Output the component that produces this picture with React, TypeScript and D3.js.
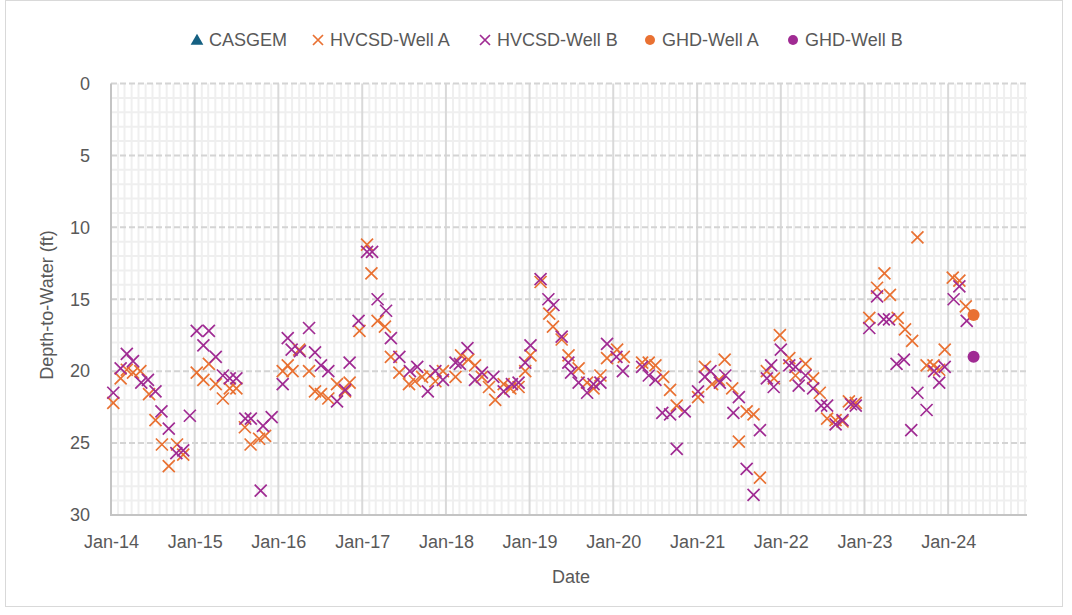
import React, { useEffect, useRef } from "react";
import * as d3 from "d3";

// depth-to-water readings, [date, ft]
const hvcsdWellA: [string, number][] = [
  ["2014-01-11", 22.2], ["2014-02-12", 20.5], ["2014-03-11", 19.9], ["2014-04-07", 20.1],
  ["2014-05-09", 20.0], ["2014-06-16", 21.6], ["2014-07-14", 23.4], ["2014-08-11", 25.1],
  ["2014-09-10", 26.6], ["2014-10-16", 25.1], ["2014-11-12", 25.8], ["2015-01-10", 20.1],
  ["2015-02-08", 20.6], ["2015-03-04", 19.5], ["2015-04-03", 20.9], ["2015-05-04", 21.9],
  ["2015-06-03", 21.2], ["2015-07-02", 21.2], ["2015-08-08", 23.9], ["2015-09-02", 25.1],
  ["2015-10-09", 24.7], ["2015-11-04", 24.5], ["2016-01-20", 20.0], ["2016-02-11", 19.6],
  ["2016-03-03", 20.0], ["2016-04-01", 18.5], ["2016-05-14", 20.0], ["2016-06-09", 21.4],
  ["2016-07-05", 21.6], ["2016-08-06", 21.9], ["2016-09-13", 20.9], ["2016-10-18", 21.4],
  ["2016-11-07", 20.8], ["2016-12-20", 17.2], ["2017-01-22", 11.2], ["2017-02-10", 13.2],
  ["2017-03-09", 16.5], ["2017-04-10", 16.9], ["2017-05-06", 19.0], ["2017-06-12", 20.1],
  ["2017-07-24", 20.9], ["2017-08-19", 20.7], ["2017-09-19", 20.4], ["2017-10-24", 20.3],
  ["2017-11-16", 20.7], ["2017-12-19", 20.0], ["2018-02-12", 20.4], ["2018-03-08", 18.9],
  ["2018-04-09", 19.2], ["2018-05-08", 19.6], ["2018-06-07", 20.4], ["2018-07-08", 21.1],
  ["2018-08-04", 22.0], ["2018-09-10", 20.9], ["2018-10-09", 21.2], ["2018-11-14", 21.1],
  ["2018-12-13", 20.0], ["2019-01-05", 18.9], ["2019-02-18", 13.8], ["2019-03-28", 16.0],
  ["2019-04-13", 16.9], ["2019-05-21", 17.8], ["2019-06-20", 18.9], ["2019-08-03", 19.8],
  ["2019-09-09", 20.8], ["2019-10-07", 21.2], ["2019-11-06", 20.3], ["2019-12-05", 19.1],
  ["2020-01-18", 18.5], ["2020-02-16", 19.0], ["2020-05-06", 19.4], ["2020-06-04", 19.4],
  ["2020-07-03", 19.6], ["2020-08-06", 20.4], ["2020-09-05", 21.3], ["2020-10-04", 22.4],
  ["2021-01-05", 21.8], ["2021-02-04", 19.7], ["2021-03-07", 20.9], ["2021-04-06", 20.6],
  ["2021-05-01", 19.2], ["2021-06-03", 21.2], ["2021-07-02", 24.9], ["2021-08-05", 22.8],
  ["2021-09-04", 23.0], ["2021-10-02", 27.4], ["2021-11-01", 20.0], ["2021-12-02", 20.5],
  ["2021-12-28", 17.5], ["2022-02-07", 19.1], ["2022-03-06", 20.3], ["2022-04-19", 19.5],
  ["2022-05-22", 20.5], ["2022-06-20", 21.5], ["2022-07-22", 23.3], ["2022-08-28", 23.4],
  ["2022-09-27", 23.5], ["2022-10-25", 22.1], ["2022-11-24", 22.2], ["2023-01-22", 16.3],
  ["2023-02-25", 14.2], ["2023-03-29", 13.2], ["2023-04-22", 14.7], ["2023-05-26", 16.3],
  ["2023-06-27", 17.1], ["2023-07-28", 17.9], ["2023-08-20", 10.7], ["2023-09-29", 19.6],
  ["2023-10-29", 19.6], ["2023-11-23", 19.9], ["2023-12-17", 18.5], ["2024-01-21", 13.5],
  ["2024-02-19", 13.7], ["2024-03-18", 15.5],
];

const hvcsdWellB: [string, number][] = [
  ["2014-01-11", 21.5], ["2014-02-12", 19.8], ["2014-03-11", 18.8], ["2014-04-07", 19.3],
  ["2014-05-13", 20.8], ["2014-06-11", 20.6], ["2014-07-14", 21.4], ["2014-08-09", 22.8],
  ["2014-09-10", 24.0], ["2014-10-13", 25.7], ["2014-11-12", 25.5], ["2014-12-11", 23.1],
  ["2015-01-10", 17.2], ["2015-02-08", 18.2], ["2015-03-04", 17.2], ["2015-04-03", 19.0],
  ["2015-05-04", 20.3], ["2015-06-03", 20.5], ["2015-07-02", 20.5], ["2015-08-10", 23.3],
  ["2015-09-03", 23.3], ["2015-10-16", 28.3], ["2015-10-26", 23.8], ["2015-12-03", 23.2],
  ["2016-01-20", 20.9], ["2016-02-11", 17.7], ["2016-02-28", 18.5], ["2016-04-04", 18.6],
  ["2016-05-14", 17.0], ["2016-06-09", 18.7], ["2016-07-05", 19.6], ["2016-08-06", 20.0],
  ["2016-09-13", 22.1], ["2016-10-18", 21.3], ["2016-11-07", 19.4], ["2016-12-16", 16.5],
  ["2017-01-22", 11.7], ["2017-02-13", 11.7], ["2017-03-09", 15.0], ["2017-04-15", 15.8],
  ["2017-05-06", 17.7], ["2017-06-12", 19.0], ["2017-07-28", 20.0], ["2017-08-29", 19.7],
  ["2017-10-14", 21.4], ["2017-11-16", 20.0], ["2017-12-19", 20.6], ["2018-02-12", 19.4],
  ["2018-03-03", 19.5], ["2018-04-05", 18.4], ["2018-05-08", 20.6], ["2018-06-07", 20.1],
  ["2018-07-27", 20.4], ["2018-09-10", 21.4], ["2018-10-16", 20.9], ["2018-11-14", 20.8],
  ["2018-12-13", 19.4], ["2019-01-05", 18.2], ["2019-02-18", 13.6], ["2019-03-24", 15.0],
  ["2019-04-15", 15.4], ["2019-05-21", 17.6], ["2019-06-19", 19.4], ["2019-07-01", 20.1],
  ["2019-08-03", 20.8], ["2019-09-09", 21.5], ["2019-10-07", 20.9], ["2019-11-06", 20.8],
  ["2019-12-05", 18.1], ["2020-01-15", 19.0], ["2020-02-12", 20.0], ["2020-05-06", 19.7],
  ["2020-06-04", 20.3], ["2020-07-03", 20.6], ["2020-08-02", 22.9], ["2020-09-05", 23.0],
  ["2020-10-04", 25.4], ["2020-11-08", 22.8], ["2021-01-05", 21.4], ["2021-02-04", 20.4],
  ["2021-02-28", 20.0], ["2021-04-10", 20.8], ["2021-05-04", 20.3], ["2021-06-08", 22.9],
  ["2021-07-02", 21.8], ["2021-08-05", 26.8], ["2021-09-04", 28.6], ["2021-10-02", 24.1],
  ["2021-11-01", 20.5], ["2021-11-20", 19.6], ["2021-12-01", 21.1], ["2022-01-01", 18.5],
  ["2022-02-07", 19.6], ["2022-03-06", 19.7], ["2022-03-20", 21.0], ["2022-04-19", 20.3],
  ["2022-05-22", 21.2], ["2022-06-26", 22.4], ["2022-07-22", 22.4], ["2022-08-28", 23.7],
  ["2022-09-27", 23.4], ["2022-11-03", 22.3], ["2022-11-24", 22.4], ["2023-01-22", 17.0],
  ["2023-02-25", 14.8], ["2023-03-26", 16.4], ["2023-04-18", 16.4], ["2023-05-21", 19.5],
  ["2023-06-22", 19.2], ["2023-07-24", 24.1], ["2023-08-20", 21.5], ["2023-09-29", 22.7],
  ["2023-11-01", 20.0], ["2023-11-23", 20.8], ["2023-12-17", 19.7], ["2024-01-25", 15.0],
  ["2024-02-19", 14.1], ["2024-03-22", 16.5],
];

const ghdWellA: [string, number][] = [["2024-04-21", 16.1]];
const ghdWellB: [string, number][] = [["2024-04-21", 19.0]];
const casgem: [string, number][] = [];

const yTicks = [0, 5, 10, 15, 20, 25, 30];
const xTickYears = d3.range(2014, 2025);
const legendNames = ["CASGEM", "HVCSD-Well A", "HVCSD-Well B", "GHD-Well A", "GHD-Well B"];

const BLUE = "#156082", ORANGE = "#E97132", PURPLE = "#A02B93";
const FONT = "'Liberation Sans', Arial, sans-serif";

const App = () => {
  const svgRef = useRef<SVGSVGElement>(null);

  useEffect(() => {
    const svg = d3.select(svgRef.current);
    svg.selectAll("*").remove();
    draw(svg);
  }, []);

  const draw = (svg: any) => {
    const left = 111, right = 1027, top = 83.5, bottom = 515;
    const parse = d3.timeParse("%Y-%m-%d");

    const x = d3.scaleTime()
      .domain([new Date(2014, 0, 1), new Date(2024, 11, 10)])
      .range([left, right]);
    const y = d3.scaleLinear().domain([0, 30]).range([top, bottom]);

    svg.append("rect").attr("width", 1072).attr("height", 615).attr("fill", "#fff");
    svg.append("rect")
      .attr("x", 5.5).attr("y", 0.5).attr("width", 1057).attr("height", 606)
      .attr("fill", "none").attr("stroke", "#d9d9d9");

    const grid = svg.append("g");
    // minor gridlines (monthly / 1 ft)
    const months = d3.timeMonth.range(new Date(2014, 1, 1), new Date(2024, 11, 10))
      .filter((d) => d.getMonth() !== 0);
    grid.selectAll(".mv").data(months).enter().append("line")
      .attr("x1", (d) => x(d)).attr("x2", (d) => x(d))
      .attr("y1", top).attr("y2", bottom)
      .attr("stroke", "#efefef").attr("stroke-width", 2);
    const feet = d3.range(1, 30).filter((d) => d % 5 !== 0);
    grid.selectAll(".mh").data(feet).enter().append("line")
      .attr("x1", left).attr("x2", right)
      .attr("y1", (d) => y(d)).attr("y2", (d) => y(d))
      .attr("stroke", "#efefef").attr("stroke-width", 2);
    // major gridlines
    const years = xTickYears.slice(1).map((yr) => new Date(yr, 0, 1));
    grid.selectAll(".Mv").data(years).enter().append("line")
      .attr("x1", (d) => x(d)).attr("x2", (d) => x(d))
      .attr("y1", top).attr("y2", bottom)
      .attr("stroke", "#d9d9d9").attr("stroke-width", 2);
    grid.selectAll(".Mh").data(yTicks.slice(0, -1)).enter().append("line")
      .attr("x1", left).attr("x2", right)
      .attr("y1", (d) => y(d)).attr("y2", (d) => y(d))
      .attr("stroke", "#d4d4d4").attr("stroke-width", 2)
      .attr("stroke-dasharray", "6,3");

    // axis lines
    svg.append("line").attr("x1", left).attr("x2", left).attr("y1", top).attr("y2", bottom)
      .attr("stroke", "#c4c4c4").attr("stroke-width", 2);
    svg.append("line").attr("x1", left - 1).attr("x2", right).attr("y1", bottom).attr("y2", bottom)
      .attr("stroke", "#c4c4c4").attr("stroke-width", 2);

    const xAxis = svg.append("g").attr("transform", `translate(0,${bottom})`)
      .call(d3.axisBottom(x)
        .tickValues(xTickYears.map((yr) => new Date(yr, 0, 1)))
        .tickFormat(d3.timeFormat("%b-%y") as any)
        .tickSize(0).tickPadding(20));
    xAxis.select(".domain").remove();
    xAxis.selectAll("text").attr("font-family", FONT).attr("font-size", "18px").attr("fill", "#595959");

    const yAxis = svg.append("g").attr("transform", `translate(${left},0)`)
      .call(d3.axisLeft(y).tickValues(yTicks).tickSize(0).tickPadding(21));
    yAxis.select(".domain").remove();
    yAxis.selectAll("text").attr("font-family", FONT).attr("font-size", "18px").attr("fill", "#595959");

    svg.append("text")
      .attr("transform", "translate(53,305) rotate(-90)")
      .attr("text-anchor", "middle")
      .attr("font-family", FONT).attr("font-size", "18px").attr("fill", "#595959")
      .text("Depth-to-Water (ft)");
    svg.append("text")
      .attr("x", 571).attr("y", 583)
      .attr("text-anchor", "middle")
      .attr("font-family", FONT).attr("font-size", "18px").attr("fill", "#595959")
      .text("Date");

    const cross = "M-6,-6L6,6M6,-6L-6,6";
    const tri = d3.symbol().type(d3.symbolTriangle).size(70)();

    const addCross = (data: [string, number][], color: string) => {
      svg.append("g").selectAll("path").data(data).enter().append("path")
        .attr("d", cross)
        .attr("transform", (d) => `translate(${x(parse(d[0]) as Date)},${y(d[1])})`)
        .attr("stroke", color).attr("stroke-width", 1.7).attr("fill", "none");
    };
    const addDot = (data: [string, number][], color: string) => {
      svg.append("g").selectAll("circle").data(data).enter().append("circle")
        .attr("cx", (d) => x(parse(d[0]) as Date)).attr("cy", (d) => y(d[1]))
        .attr("r", 6).attr("fill", color);
    };

    svg.append("g").selectAll("path").data(casgem).enter().append("path")
      .attr("d", tri)
      .attr("transform", (d) => `translate(${x(parse(d[0]) as Date)},${y(d[1])})`)
      .attr("fill", BLUE);
    addCross(hvcsdWellA, ORANGE);
    addCross(hvcsdWellB, PURPLE);
    addDot(ghdWellA, ORANGE);
    addDot(ghdWellB, PURPLE);

    // legend
    const legendX = [197, 318, 485, 650, 793];
    const legendColors = [BLUE, ORANGE, PURPLE, ORANGE, PURPLE];
    const lg = svg.append("g");
    legendNames.forEach((name, i) => {
      const cx = legendX[i], cy = 40;
      if (i === 0) {
        lg.append("path").attr("d", tri).attr("transform", `translate(${cx},${cy + 1})`).attr("fill", BLUE);
      } else if (i < 3) {
        lg.append("path").attr("d", "M-5,-5L5,5M5,-5L-5,5")
          .attr("transform", `translate(${cx},${cy})`)
          .attr("stroke", legendColors[i]).attr("stroke-width", 1.7).attr("fill", "none");
      } else {
        lg.append("circle").attr("cx", cx).attr("cy", cy).attr("r", 5).attr("fill", legendColors[i]);
      }
      lg.append("text")
        .attr("x", cx + 12).attr("y", 46)
        .attr("font-family", FONT).attr("font-size", "18px").attr("fill", "#595959")
        .text(name);
    });
  };

  return (
    <div>
      <svg ref={svgRef} width={1072} height={615} style={{ position: "absolute", left: 0, top: 0 }}></svg>
    </div>
  );
};

export default App;
